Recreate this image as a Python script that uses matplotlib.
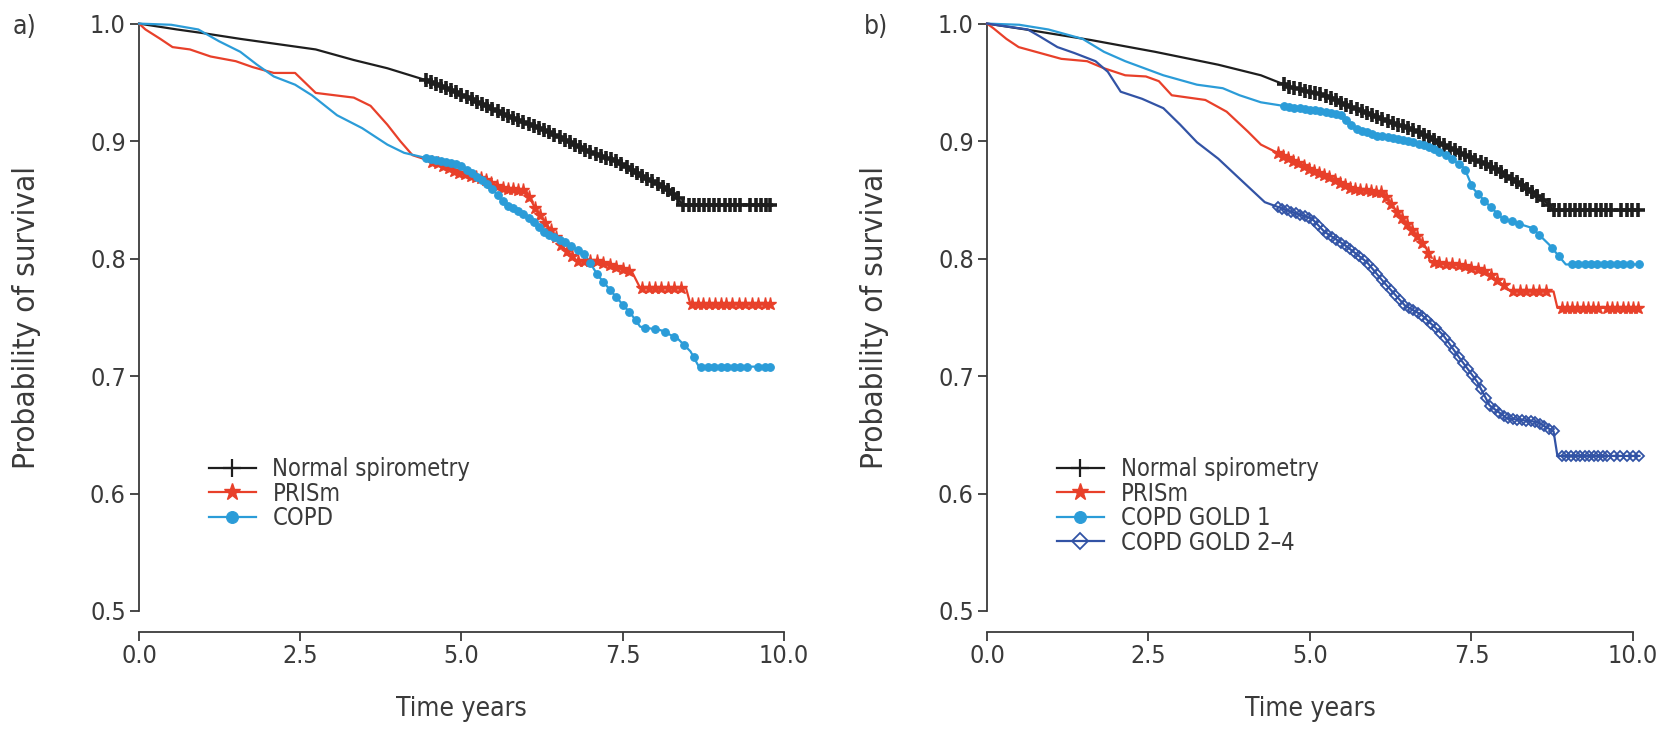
import numpy as np
import matplotlib.pyplot as plt
from matplotlib.lines import Line2D

plt.rcParams['font.family'] = ['DejaVu Sans']
plt.rcParams['font.stretch'] = 'condensed'

#####
# data (curve points + censor times)
#####
# panel a
normal_a_t = [0, 0.59, 0.98, 1.57, 2.22, 2.74, 3.33, 3.85, 4.44, 4.9, 5.35, 5.81, 6.2, 6.46, 6.98, 7.44, 7.77, 8.16, 8.35, 8.42, 9.79]
normal_a_s = [1.0, 0.995, 0.992, 0.987, 0.982, 0.978, 0.969, 0.962, 0.952, 0.942, 0.931, 0.919, 0.911, 0.905, 0.891, 0.882, 0.871, 0.86, 0.852, 0.846, 0.846]
prism_a_t = [0, 0.1, 0.33, 0.52, 0.79, 1.11, 1.5, 1.76, 2.09, 2.42, 2.74, 3.33, 3.59, 3.85, 4.05, 4.24, 4.63, 4.96, 5.35,
             5.61, 6.0, 6.14, 6.4, 6.59, 6.79, 7.11, 7.64, 7.77, 8.48, 8.55, 9.79]
prism_a_s = [1.0, 0.995, 0.987, 0.98, 0.978, 0.972, 0.968, 0.963, 0.958, 0.958, 0.941, 0.937, 0.93, 0.914, 0.9, 0.888, 0.881, 0.873, 0.868,
             0.86, 0.858, 0.843, 0.823, 0.809, 0.798, 0.798, 0.789, 0.775, 0.775, 0.761, 0.761]
copd_a_t = [0, 0.5, 0.92, 1.24, 1.57, 1.83, 2.09, 2.42, 2.68, 3.07, 3.46, 3.85, 4.11, 4.5, 4.96, 5.42, 5.68, 6.0, 6.27,
            6.66, 6.92, 7.11, 7.37, 7.64, 7.77, 8.09, 8.35, 8.55, 8.68, 9.79]
copd_a_s = [1.0, 0.999, 0.995, 0.985, 0.976, 0.965, 0.955, 0.948, 0.939, 0.922, 0.911, 0.897, 0.89, 0.885, 0.88, 0.863, 0.846, 0.837, 0.823,
            0.812, 0.803, 0.786, 0.769, 0.752, 0.742, 0.739, 0.732, 0.721, 0.708, 0.708]

normal_a_cens = [4.45, 4.52, 4.6, 4.68, 4.76, 4.84, 4.92, 5.0, 5.08, 5.16, 5.24, 5.32, 5.4, 5.48, 5.56, 5.64, 5.72, 5.8,
                 5.88, 5.96, 6.04, 6.12, 6.2, 6.28, 6.36, 6.44, 6.52, 6.6, 6.68, 6.76, 6.84, 6.92, 7.0, 7.08, 7.16, 7.24,
                 7.32, 7.4, 7.48, 7.56, 7.64, 7.72, 7.8, 7.88, 7.96, 8.04, 8.12, 8.2, 8.28, 8.36, 8.44, 8.52, 8.6, 8.68,
                 8.76, 8.84, 8.92, 9.0, 9.08, 9.16, 9.24, 9.32, 9.48, 9.56, 9.64, 9.72, 9.79]
prism_a_cens = [4.55, 4.63, 4.71, 4.8, 4.88, 4.96, 5.05, 5.14, 5.22, 5.3, 5.38, 5.46, 5.55, 5.64, 5.72, 5.8, 5.88, 5.96,
                6.05, 6.14, 6.22, 6.3, 6.38, 6.46, 6.55, 6.64, 6.72, 6.8, 6.9, 7.0, 7.1, 7.2, 7.3, 7.4, 7.5, 7.6,
                7.8, 7.9, 8.0, 8.1, 8.2, 8.3, 8.4, 8.58, 8.66, 8.75, 8.84, 8.93, 9.02, 9.1, 9.2, 9.3, 9.4, 9.5,
                9.6, 9.7, 9.79]
copd_a_cens = [4.45, 4.52, 4.6, 4.68, 4.76, 4.84, 4.92, 5.0, 5.08, 5.16, 5.24, 5.32, 5.4, 5.48, 5.56, 5.64, 5.72, 5.8,
               5.88, 5.96, 6.04, 6.12, 6.2, 6.28, 6.36, 6.44, 6.52, 6.6, 6.7, 6.8, 6.9, 7.0, 7.1, 7.2, 7.3, 7.4,
               7.5, 7.6, 7.7, 7.85, 8.0, 8.15, 8.3, 8.45, 8.6, 8.72, 8.82, 8.92, 9.02, 9.12, 9.22, 9.32, 9.42, 9.6,
               9.7, 9.79]

# panel b
normal_b_t = [0, 0.6, 1.61, 2.6, 3.58, 4.24, 4.7, 5.22, 5.68, 6.21, 6.67, 7.06, 7.52, 7.85, 8.18, 8.51, 8.7, 8.77, 10.08]
normal_b_s = [1.0, 0.995, 0.986, 0.976, 0.965, 0.956, 0.946, 0.939, 0.928, 0.917, 0.908, 0.897, 0.885, 0.877, 0.866, 0.854, 0.846, 0.841, 0.841]
prism_b_t = [0, 0.1, 0.3, 0.49, 0.82, 1.15, 1.55, 1.81, 2.14, 2.46, 2.66, 2.86, 3.38, 3.71, 4.04, 4.24, 4.57, 4.96, 5.35,
             5.62, 6.14, 6.34, 6.6, 6.8, 6.86, 7.39, 7.72, 7.98, 8.11, 8.77, 8.83, 10.08]
prism_b_s = [1.0, 0.996, 0.987, 0.98, 0.975, 0.97, 0.968, 0.962, 0.956, 0.955, 0.951, 0.939, 0.935, 0.925, 0.908, 0.897, 0.888, 0.877, 0.868,
             0.86, 0.856, 0.84, 0.823, 0.809, 0.797, 0.794, 0.789, 0.778, 0.772, 0.772, 0.758, 0.758]
gold1_b_t = [0, 0.5, 0.95, 1.48, 1.81, 2.14, 2.73, 3.25, 3.65, 3.91, 4.24, 4.7, 5.22, 5.49, 5.68, 6.01, 6.54, 6.86, 7.19,
             7.39, 7.52, 7.72, 7.98, 8.44, 8.7, 8.96, 10.1]
gold1_b_s = [1.0, 0.999, 0.995, 0.987, 0.976, 0.968, 0.956, 0.948, 0.945, 0.939, 0.933, 0.929, 0.925, 0.922, 0.911, 0.905, 0.9, 0.895, 0.885,
             0.877, 0.86, 0.848, 0.834, 0.826, 0.812, 0.795, 0.795]
gold24_b_t = [0, 0.63, 0.82, 1.09, 1.35, 1.68, 1.87, 2.07, 2.4, 2.73, 2.99, 3.25, 3.58, 3.91, 4.3, 4.7, 5.03, 5.22, 5.55,
              5.88, 6.14, 6.47, 6.73, 7.06, 7.32, 7.59, 7.78, 8.05, 8.51, 8.77, 8.83, 10.1]
gold24_b_s = [1.0, 0.995, 0.989, 0.98, 0.975, 0.968, 0.959, 0.942, 0.936, 0.928, 0.914, 0.899, 0.885, 0.868, 0.848, 0.84, 0.834, 0.823, 0.811,
              0.797, 0.78, 0.76, 0.752, 0.735, 0.715, 0.695, 0.675, 0.664, 0.661, 0.653, 0.632, 0.632]

normal_b_cens = [4.6, 4.68, 4.76, 4.84, 4.92, 5.0, 5.08, 5.16, 5.24, 5.32, 5.4, 5.48, 5.56, 5.64, 5.72, 5.8, 5.88, 5.96,
                 6.04, 6.12, 6.2, 6.28, 6.36, 6.44, 6.52, 6.6, 6.68, 6.76, 6.84, 6.92, 7.0, 7.08, 7.16, 7.24, 7.32, 7.4,
                 7.48, 7.56, 7.64, 7.72, 7.8, 7.88, 7.96, 8.04, 8.12, 8.2, 8.28, 8.36, 8.44, 8.52, 8.6, 8.7, 8.78, 8.86,
                 8.94, 9.02, 9.1, 9.18, 9.26, 9.34, 9.42, 9.5, 9.58, 9.66, 9.82, 9.9, 9.98, 10.08]
prism_b_cens = [4.5, 4.58, 4.66, 4.74, 4.82, 4.9, 4.98, 5.06, 5.14, 5.22, 5.3, 5.38, 5.46, 5.54, 5.62, 5.7, 5.78, 5.86,
                5.94, 6.02, 6.1, 6.18, 6.26, 6.34, 6.42, 6.5, 6.58, 6.66, 6.74, 6.82, 6.92, 7.0, 7.1, 7.2, 7.3, 7.4,
                7.5, 7.6, 7.7, 7.8, 7.9, 8.0, 8.15, 8.25, 8.35, 8.45, 8.55, 8.65, 8.9, 8.98, 9.06, 9.14, 9.22, 9.3,
                9.38, 9.46, 9.6, 9.68, 9.76, 9.84, 9.92, 10.0, 10.08]
gold1_b_cens = [4.6, 4.68, 4.76, 4.84, 4.92, 5.0, 5.08, 5.16, 5.24, 5.32, 5.4, 5.48, 5.56, 5.64, 5.72, 5.8, 5.88, 5.96,
                6.04, 6.12, 6.2, 6.28, 6.36, 6.44, 6.52, 6.6, 6.68, 6.76, 6.84, 6.92, 7.0, 7.1, 7.2, 7.3, 7.4, 7.5,
                7.6, 7.7, 7.8, 7.9, 8.0, 8.12, 8.24, 8.45, 8.55, 8.75, 8.85, 9.05, 9.15, 9.25, 9.35, 9.45, 9.55, 9.65,
                9.75, 9.85, 9.95, 10.1]
gold24_b_cens = [4.5, 4.57, 4.64, 4.71, 4.78, 4.85, 4.92, 4.99, 5.06, 5.13, 5.2, 5.27, 5.34, 5.41, 5.48, 5.55, 5.62,
                 5.69, 5.76, 5.83, 5.9, 5.97, 6.04, 6.11, 6.18, 6.25, 6.32, 6.39, 6.46, 6.53, 6.6, 6.67, 6.74, 6.81,
                 6.88, 6.95, 7.02, 7.09, 7.16, 7.23, 7.3, 7.37, 7.44, 7.51, 7.58, 7.65, 7.72, 7.79, 7.86, 7.93, 8.0,
                 8.07, 8.14, 8.21, 8.28, 8.35, 8.42, 8.49, 8.56, 8.63, 8.7, 8.77, 8.9, 8.97, 9.04, 9.11, 9.18, 9.25,
                 9.32, 9.39, 9.46, 9.53, 9.6, 9.7, 9.8, 9.9, 10.0, 10.1]

xticks = [0, 2.5, 5.0, 7.5, 10.0]
yticks = [0.5, 0.6, 0.7, 0.8, 0.9, 1.0]

TXT = '#3a3a3a'
BLACK = '#1e1e1e'
RED = '#e8402a'
LBLUE = '#2b9cd8'
DBLUE = '#3253a5'

# marker styles per group
STY = {
	'normal': dict(color=BLACK, marker='+', ms=10, mew=2.6, mfc=BLACK),
	'prism': dict(color=RED, marker='*', ms=9.5, mew=1.0, mfc=RED),
	'copd': dict(color=LBLUE, marker='o', ms=5.5, mew=0.8, mfc=LBLUE),
	'gold24': dict(color=DBLUE, marker='D', ms=5, mew=1.3, mfc='none'),
}

#####
# helpers
#####
def km_curve(ax, t, s, cens, sty):
	ax.plot(t, s, color=sty['color'], lw=1.6, clip_on=False, zorder=3)
	ys = np.interp(cens, t, s)
	ax.plot(cens, ys, ls='none', color=sty['color'], marker=sty['marker'], ms=sty['ms'],
			mew=sty['mew'], mfc=sty['mfc'], mec=sty['color'], clip_on=False, zorder=4)

def setup_axes(ax):
	ax.set_xlim(0, 10)
	ax.set_ylim(0.5, 1.0)
	ax.spines['top'].set_visible(False)
	ax.spines['right'].set_visible(False)
	for sp in ['left', 'bottom']:
		ax.spines[sp].set_color(TXT)
		ax.spines[sp].set_linewidth(1.3)
	ax.spines['left'].set_bounds(0.5, 1.0)
	ax.spines['bottom'].set_position(('outward', 15))
	ax.spines['bottom'].set_bounds(0, 10)
	ax.set_xticks(xticks)
	ax.set_xticklabels(['%.1f' % v for v in xticks])
	ax.set_yticks(yticks)
	ax.set_yticklabels(['%.1f' % v for v in yticks])
	ax.tick_params(direction='out', length=6.5, width=1.3, colors=TXT, labelsize=18, pad=3)
	ax.tick_params(axis='x', pad=2)
	ax.set_xlabel('Time years', fontsize=19, color=TXT)
	ax.xaxis.set_label_coords(0.5, -0.145)
	ax.set_ylabel('Probability of survival', fontsize=22.5, color=TXT)
	ax.yaxis.set_label_coords(-0.152, 0.5)

def add_legend(ax, labels, keys, x0, y0):
	handles = []
	for k in keys:
		sty = STY[k]
		handles.append(Line2D([0], [0], color=sty['color'], lw=1.6, marker=sty['marker'], ms=sty['ms'] + 3,
							  mew=min(sty['mew'], 1.6), mfc=sty['mfc'], mec=sty['color']))
	ax.legend(handles, labels, loc='upper left', bbox_to_anchor=(x0, y0), frameon=False, fontsize=17,
			  handlelength=2.0, handletextpad=0.7, labelspacing=0.02, borderpad=0, borderaxespad=0,
			  labelcolor=TXT)

#####
# figure
#####
fig = plt.figure(figsize=(16.81, 7.34), dpi=100)
ax_a = fig.add_axes([139 / 1681, 123 / 734, 645 / 1681, 587.4 / 734])
ax_b = fig.add_axes([987 / 1681, 123 / 734, 646 / 1681, 587.4 / 734])

setup_axes(ax_a)
km_curve(ax_a, normal_a_t, normal_a_s, normal_a_cens, STY['normal'])
km_curve(ax_a, prism_a_t, prism_a_s, prism_a_cens, STY['prism'])
km_curve(ax_a, copd_a_t, copd_a_s, copd_a_cens, STY['copd'])
add_legend(ax_a, ['Normal spirometry', 'PRISm', 'COPD'], ['normal', 'prism', 'copd'], 0.108, 0.262)

setup_axes(ax_b)
km_curve(ax_b, normal_b_t, normal_b_s, normal_b_cens, STY['normal'])
km_curve(ax_b, gold1_b_t, gold1_b_s, gold1_b_cens, STY['copd'])
km_curve(ax_b, prism_b_t, prism_b_s, prism_b_cens, STY['prism'])
km_curve(ax_b, gold24_b_t, gold24_b_s, gold24_b_cens, STY['gold24'])
add_legend(ax_b, ['Normal spirometry', 'PRISm', 'COPD GOLD 1', 'COPD GOLD 2\u20134'],
		   ['normal', 'prism', 'copd', 'gold24'], 0.108, 0.262)

fig.text(13 / 1681, 1 - 27 / 734, 'a)', fontsize=19, color=TXT, va='center', ha='left')
fig.text(864 / 1681, 1 - 27 / 734, 'b)', fontsize=19, color=TXT, va='center', ha='left')

fig.savefig('out.png', dpi=100, facecolor='white')
